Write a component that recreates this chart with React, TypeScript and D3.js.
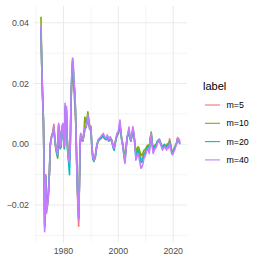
import * as d3 from 'd3';

// decimal years of each observation
const dates: number[] = [
	1971.8, 1972.1, 1972.4, 1972.7, 1973.0, 1973.15, 1973.35, 1973.55, 1973.8, 1974.15,
	1974.5, 1974.9, 1975.15, 1975.4, 1975.8, 1976.1, 1976.5, 1976.8, 1977.2, 1977.6,
	1977.9, 1978.25, 1978.5, 1978.8, 1979.15, 1979.4, 1979.8, 1980.0, 1980.35, 1980.6,
	1980.85, 1981.1, 1981.3, 1981.6, 1981.9, 1982.2, 1982.5, 1982.75, 1983.0, 1983.3,
	1983.5, 1983.8, 1984.2, 1984.45, 1984.7, 1984.95, 1985.3, 1985.55, 1985.8, 1986.05,
	1986.3, 1986.7, 1987.1, 1987.5, 1987.8, 1988.2, 1988.6, 1988.9, 1989.3, 1989.6,
	1990.0, 1990.3, 1990.7, 1991.1, 1991.6, 1992.1, 1992.6, 1993.1, 1993.6, 1994.1,
	1994.5, 1995.0, 1995.5, 1996.0, 1996.5, 1997.0, 1997.6, 1998.1, 1998.5, 1999.0,
	1999.5, 2000.0, 2000.6, 2001.0, 2001.3, 2001.7, 2002.1, 2002.4, 2002.8, 2003.2,
	2003.5, 2003.9, 2004.2, 2004.6, 2005.0, 2005.3, 2005.7, 2006.1, 2006.4, 2006.8,
	2007.2, 2007.5, 2007.9, 2008.3, 2008.6, 2009.0, 2009.3, 2009.7, 2010.1, 2010.5,
	2010.9, 2011.3, 2011.6, 2012.0, 2012.4, 2012.7, 2013.1, 2013.5, 2013.9, 2014.2,
	2014.6, 2015.0, 2015.3, 2015.7, 2016.1, 2016.4, 2016.8, 2017.2, 2017.6, 2017.9,
	2018.3, 2018.7, 2019.0, 2019.4, 2019.8, 2020.2, 2020.5, 2020.9, 2021.3, 2021.6,
	2022.0, 2022.5
];

const m5: number[] = [
	0.0380, 0.0250, 0.0150, 0.0075, -0.0130, -0.0265, -0.0170, -0.0100, -0.0210, -0.0195,
	-0.0160, -0.0088, -0.0005, 0.0015, 0.0033, 0.0040, 0.0066, 0.0030, -0.0005, -0.0022,
	-0.0032, 0.0065, 0.0045, -0.0005, 0.0005, 0.0055, 0.0062, 0.0025, -0.0005, 0.0120,
	0.0100, 0.0110, 0.0035, -0.0025, -0.0045, -0.0055, 0.0005, 0.0130, 0.0200, 0.0250,
	0.0230, 0.0180, 0.0124, 0.0075, -0.0010, -0.0110, -0.0215, -0.0270, -0.0150, -0.0015,
	0.0030, 0.0012, 0.0010, 0.0030, 0.0050, 0.0055, 0.0070, 0.0090, 0.0062, 0.0048,
	0.0052, 0.0000, -0.0040, -0.0050, -0.0038, -0.0008, 0.0010, 0.0015, 0.0018, 0.0022,
	0.0025, 0.0018, 0.0015, 0.0022, 0.0010, 0.0018, 0.0010, -0.0005, -0.0010, 0.0010,
	0.0028, 0.0035, 0.0065, 0.0030, 0.0010, -0.0005, -0.0035, -0.0050, -0.0015, 0.0022,
	0.0030, 0.0048, 0.0022, 0.0012, 0.0030, 0.0048, 0.0030, -0.0005, -0.0035, -0.0025,
	-0.0015, -0.0022, -0.0040, -0.0050, -0.0048, -0.0040, -0.0030, -0.0025, -0.0018, -0.0010,
	-0.0008, -0.0020, 0.0012, 0.0030, -0.0002, -0.0018, -0.0010, -0.0005, -0.0002, 0.0005,
	0.0010, 0.0012, 0.0005, -0.0003, -0.0012, -0.0008, -0.0003, -0.0006, -0.0010, 0.0002,
	-0.0002, 0.0018, 0.0002, -0.0020, -0.0025, -0.0016, -0.0010, -0.0002, 0.0008, 0.0022,
	0.0018, 0.0010
];

const m10: number[] = [
	0.0420, 0.0262, 0.0163, 0.0085, -0.0135, -0.0270, -0.0178, -0.0105, -0.0215, -0.0198,
	-0.0165, -0.0090, -0.0010, 0.0012, 0.0030, 0.0034, 0.0055, 0.0022, -0.0015, -0.0035,
	-0.0046, 0.0060, 0.0040, -0.0015, 0.0000, 0.0050, 0.0062, 0.0020, -0.0010, 0.0110,
	0.0095, 0.0105, 0.0030, -0.0028, -0.0045, -0.0055, 0.0005, 0.0135, 0.0210, 0.0265,
	0.0262, 0.0200, 0.0160, 0.0090, -0.0005, -0.0100, -0.0195, -0.0240, -0.0135, -0.0005,
	0.0034, 0.0022, 0.0018, 0.0045, 0.0090, 0.0070, 0.0085, 0.0107, 0.0078, 0.0058,
	0.0060, 0.0005, -0.0045, -0.0057, -0.0040, -0.0005, 0.0012, 0.0018, 0.0020, 0.0025,
	0.0028, 0.0022, 0.0018, 0.0026, 0.0015, 0.0022, 0.0015, -0.0002, -0.0005, 0.0012,
	0.0030, 0.0035, 0.0060, 0.0034, 0.0015, 0.0000, -0.0030, -0.0045, -0.0012, 0.0025,
	0.0032, 0.0045, 0.0025, 0.0015, 0.0030, 0.0045, 0.0030, 0.0000, -0.0025, -0.0015,
	-0.0008, -0.0012, -0.0025, -0.0038, -0.0035, -0.0028, -0.0020, -0.0018, -0.0012, -0.0005,
	-0.0002, -0.0015, 0.0020, 0.0040, 0.0005, -0.0012, -0.0005, -0.0002, 0.0002, 0.0008,
	0.0012, 0.0012, 0.0005, -0.0002, -0.0010, -0.0005, 0.0000, -0.0005, -0.0010, 0.0000,
	-0.0005, 0.0010, 0.0000, -0.0018, -0.0025, -0.0018, -0.0012, -0.0005, 0.0005, 0.0018,
	0.0012, 0.0005
];

const m20: number[] = [
	0.0385, 0.0255, 0.0155, 0.0078, -0.0135, -0.0275, -0.0180, -0.0108, -0.0220, -0.0200,
	-0.0168, -0.0092, -0.0010, 0.0010, 0.0028, 0.0032, 0.0052, 0.0020, -0.0012, -0.0030,
	-0.0040, 0.0062, 0.0042, -0.0012, -0.0010, 0.0052, 0.0065, 0.0018, -0.0015, 0.0125,
	0.0105, 0.0115, 0.0032, -0.0035, -0.0060, -0.0100, 0.0000, 0.0140, 0.0215, 0.0275,
	0.0270, 0.0205, 0.0165, 0.0088, -0.0010, -0.0105, -0.0200, -0.0245, -0.0138, -0.0010,
	0.0032, 0.0018, 0.0012, 0.0034, 0.0050, 0.0055, 0.0072, 0.0095, 0.0065, 0.0050,
	0.0055, 0.0000, -0.0048, -0.0055, -0.0045, -0.0010, 0.0010, 0.0016, 0.0020, 0.0026,
	0.0030, 0.0020, 0.0016, 0.0026, 0.0010, 0.0020, 0.0010, -0.0012, -0.0020, 0.0008,
	0.0030, 0.0038, 0.0068, 0.0030, 0.0010, -0.0010, -0.0040, -0.0058, -0.0020, 0.0020,
	0.0030, 0.0050, 0.0020, 0.0010, 0.0030, 0.0050, 0.0030, -0.0008, -0.0040, -0.0030,
	-0.0020, -0.0028, -0.0045, -0.0060, -0.0058, -0.0048, -0.0035, -0.0030, -0.0022, -0.0012,
	-0.0008, -0.0022, 0.0015, 0.0032, -0.0005, -0.0020, -0.0012, -0.0005, 0.0000, 0.0010,
	0.0014, 0.0017, 0.0008, -0.0002, -0.0012, -0.0006, -0.0002, -0.0008, -0.0012, -0.0003,
	-0.0006, 0.0008, -0.0003, -0.0022, -0.0028, -0.0020, -0.0014, -0.0004, 0.0004, 0.0016,
	0.0010, 0.0000
];

const m40: number[] = [
	0.0390, 0.0257, 0.0157, 0.0080, -0.0140, -0.0288, -0.0184, -0.0107, -0.0228, -0.0206,
	-0.0173, -0.0095, -0.0008, 0.0014, 0.0031, 0.0036, 0.0058, 0.0025, -0.0008, -0.0024,
	-0.0035, 0.0069, 0.0047, -0.0008, 0.0003, 0.0058, 0.0069, 0.0025, -0.0008, 0.0135,
	0.0113, 0.0124, 0.0036, -0.0030, -0.0052, -0.0060, 0.0003, 0.0146, 0.0223, 0.0284,
	0.0279, 0.0212, 0.0168, 0.0091, -0.0008, -0.0107, -0.0206, -0.0250, -0.0140, -0.0008,
	0.0036, 0.0020, 0.0014, 0.0036, 0.0053, 0.0058, 0.0075, 0.0097, 0.0069, 0.0053,
	0.0058, 0.0003, -0.0041, -0.0052, -0.0041, -0.0008, 0.0014, 0.0020, 0.0025, 0.0031,
	0.0036, 0.0025, 0.0020, 0.0031, 0.0014, 0.0025, 0.0014, -0.0008, -0.0013, 0.0014,
	0.0036, 0.0042, 0.0080, 0.0036, 0.0014, -0.0008, -0.0041, -0.0063, -0.0019, 0.0025,
	0.0036, 0.0057, 0.0025, 0.0014, 0.0036, 0.0058, 0.0036, -0.0008, -0.0052, -0.0041,
	-0.0030, -0.0041, -0.0063, -0.0079, -0.0074, -0.0063, -0.0046, -0.0041, -0.0030, -0.0019,
	-0.0013, -0.0030, 0.0014, 0.0036, -0.0008, -0.0030, -0.0019, -0.0013, -0.0008, 0.0003,
	0.0009, 0.0014, 0.0003, -0.0008, -0.0019, -0.0013, -0.0008, -0.0013, -0.0019, -0.0008,
	-0.0013, 0.0003, -0.0008, -0.0030, -0.0035, -0.0024, -0.0019, -0.0008, 0.0003, 0.0020,
	0.0014, 0.0003
];

const labels: string[] = ['m=5', 'm=10', 'm=20', 'm=40'];
const colors: string[] = ['#F8766D', '#7CAE00', '#00BFC4', '#C77CFF'];
const xTicks: number[] = [1980, 2000, 2020];
const xMinor: number[] = [1970, 1990, 2010];
const yTicks: number[] = [-0.02, 0, 0.02, 0.04];
const yMinor: number[] = [-0.03, -0.01, 0.01, 0.03];

const series = [m5, m10, m20, m40];

// expand like ggplot (5% each side)
function expand(ext: [number, number]): [number, number] {
	const pad = (ext[1] - ext[0]) * 0.05;
	return [ext[0] - pad, ext[1] + pad];
}

function App() {
	const width = 263;
	const height = 263;
	const panel = { left: 34, right: 187, top: 6, bottom: 242.5 };

	const x = d3
		.scaleLinear()
		.domain(expand(d3.extent(dates) as [number, number]))
		.range([panel.left, panel.right]);

	const allValues = series.flat();
	const y = d3
		.scaleLinear()
		.domain(expand(d3.extent(allValues) as [number, number]))
		.range([panel.bottom, panel.top]);

	const line = d3
		.line<number>()
		.x((_, i) => x(dates[i]))
		.y((d) => y(d));

	const font = '"Liberation Sans", Arial, sans-serif';
	const fmt = (v: number) => (v < 0 ? '\u2212' : '') + Math.abs(v).toFixed(2);

	return (
		<svg
			width={width}
			height={height}
			style={{ position: 'absolute', left: 0, top: 0, background: '#fff' }}
			fontFamily={font}
		>
			<g>
				{yMinor.map((t) => (
					<line key={'ym' + t} x1={panel.left} x2={panel.right} y1={y(t)} y2={y(t)} stroke='#EBEBEB' strokeWidth={0.55} />
				))}
				{xMinor.map((t) => (
					<line key={'xm' + t} x1={x(t)} x2={x(t)} y1={panel.top} y2={panel.bottom} stroke='#EBEBEB' strokeWidth={0.55} />
				))}
				{yTicks.map((t) => (
					<line key={'y' + t} x1={panel.left} x2={panel.right} y1={y(t)} y2={y(t)} stroke='#EBEBEB' strokeWidth={1.07} />
				))}
				{xTicks.map((t) => (
					<line key={'x' + t} x1={x(t)} x2={x(t)} y1={panel.top} y2={panel.bottom} stroke='#EBEBEB' strokeWidth={1.07} />
				))}
			</g>
			<g>
				{series.map((s, i) => (
					<path key={labels[i]} d={line(s) ?? ''} fill='none' stroke={colors[i]} strokeWidth={1.6} strokeLinejoin='round' />
				))}
			</g>
			<g fontSize={8.8} fill='#4D4D4D'>
				{yTicks.map((t) => (
					<text key={'yl' + t} x={panel.left - 5} y={y(t)} dy='0.35em' textAnchor='end'>
						{fmt(t)}
					</text>
				))}
				{xTicks.map((t) => (
					<text key={'xl' + t} x={x(t)} y={panel.bottom + 11} textAnchor='middle'>
						{t}
					</text>
				))}
			</g>
			<g>
				<text x={203} y={86} dy='0.35em' fontSize={11} fill='#000'>
					label
				</text>
				{labels.map((l, i) => {
					const cy = 105 + i * 18.3;
					return (
						<g key={l}>
							<line x1={205} x2={220} y1={cy} y2={cy} stroke={colors[i]} strokeWidth={1.1} />
							<text x={226.5} y={cy} dy='0.35em' fontSize={8.8} fill='#000'>
								{l}
							</text>
						</g>
					);
				})}
			</g>
		</svg>
	);
}

export default App;
